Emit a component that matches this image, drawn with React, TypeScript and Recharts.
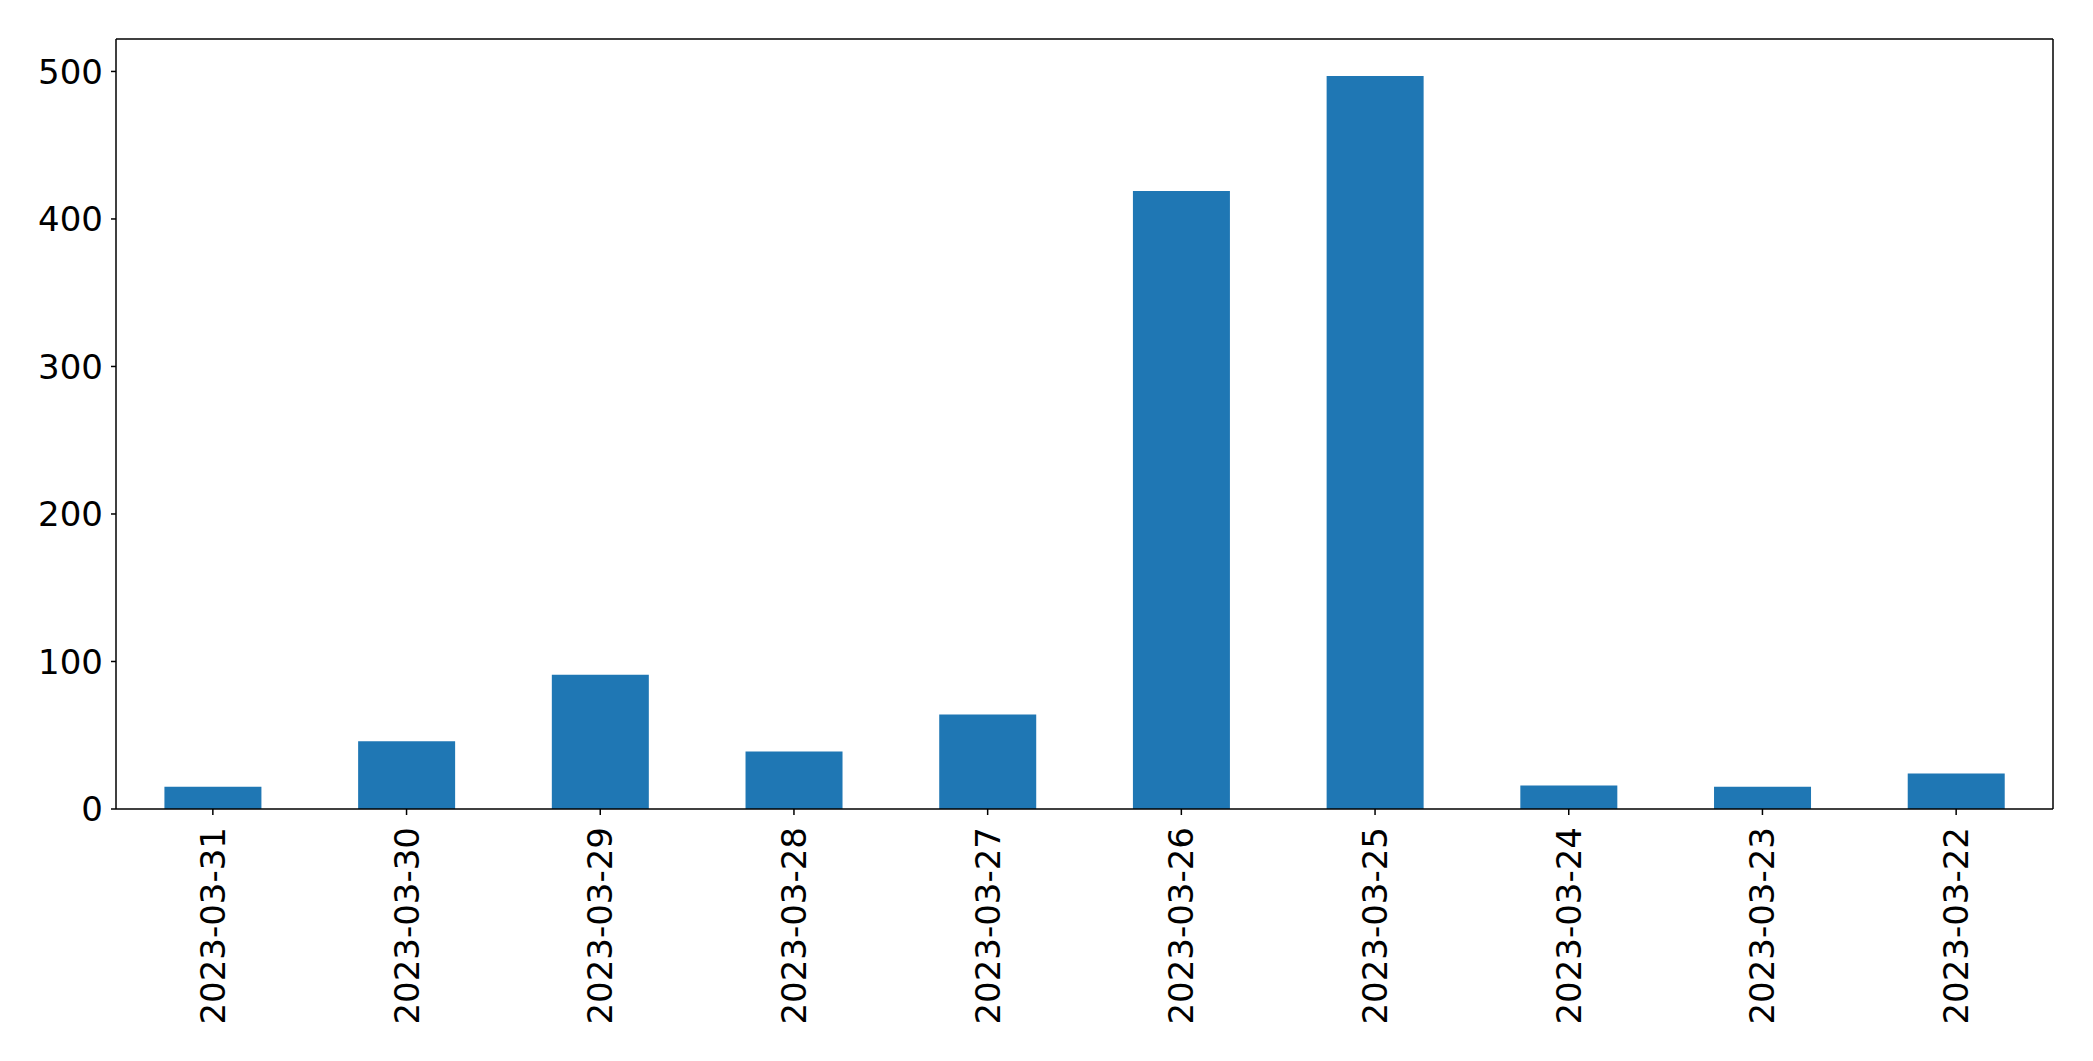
import React from 'react';
import { BarChart, Bar, XAxis, YAxis } from 'recharts';

// values
const dates = [
  '2023-03-31', '2023-03-30', '2023-03-29', '2023-03-28', '2023-03-27',
  '2023-03-26', '2023-03-25', '2023-03-24', '2023-03-23', '2023-03-22',
];
const counts = [15, 46, 91, 39, 64, 419, 497, 16, 15, 24];
const yTicks = [0, 100, 200, 300, 400, 500];

const FONT = '"DejaVu Sans", sans-serif';

const DateTick = (props: any) => {
  const { x, y, payload } = props;
  return (
    <text
      x={x}
      y={y}
      transform={`rotate(-90, ${x}, ${y})`}
      textAnchor="end"
      dominantBaseline="central"
      fontSize={34}
      fontFamily={FONT}
      fill="#000"
    >
      {payload.value}
    </text>
  );
};

export default function App() {
  const data = dates.map((d, i) => ({ date: d, count: counts[i] }));

  return (
    <div style={{ position: 'absolute', left: 0, top: 0, background: '#fff' }}>
      <BarChart
        width={2093}
        height={1061}
        data={data}
        margin={{ top: 38, right: 39, left: 0, bottom: 0 }}
        barCategoryGap="25%"
      >
        <XAxis
          dataKey="date"
          height={252}
          tick={<DateTick />}
          tickSize={6}
          tickMargin={12}
          interval={0}
          stroke="#000"
          strokeWidth={1.5}
          tickLine={{ stroke: '#000', strokeWidth: 1.5 }}
        />
        {/* top and right edges of the frame */}
        <XAxis
          xAxisId="top"
          dataKey="date"
          orientation="top"
          height={1}
          tick={false}
          tickLine={false}
          axisLine={{ stroke: '#000', strokeWidth: 1.5 }}
        />
        <YAxis
          width={116}
          domain={[0, 522]}
          ticks={yTicks}
          tickSize={5}
          tickMargin={8}
          stroke="#000"
          strokeWidth={1.5}
          tickLine={{ stroke: '#000', strokeWidth: 1.5 }}
          tick={{ fontSize: 34, fontFamily: FONT, fill: '#000' }}
        />
        <YAxis
          yAxisId="right"
          orientation="right"
          width={1}
          domain={[0, 522]}
          tick={false}
          tickLine={false}
          axisLine={{ stroke: '#000', strokeWidth: 1.5 }}
        />
        <Bar dataKey="count" fill="#1f77b4" isAnimationActive={false} />
      </BarChart>
    </div>
  );
}
